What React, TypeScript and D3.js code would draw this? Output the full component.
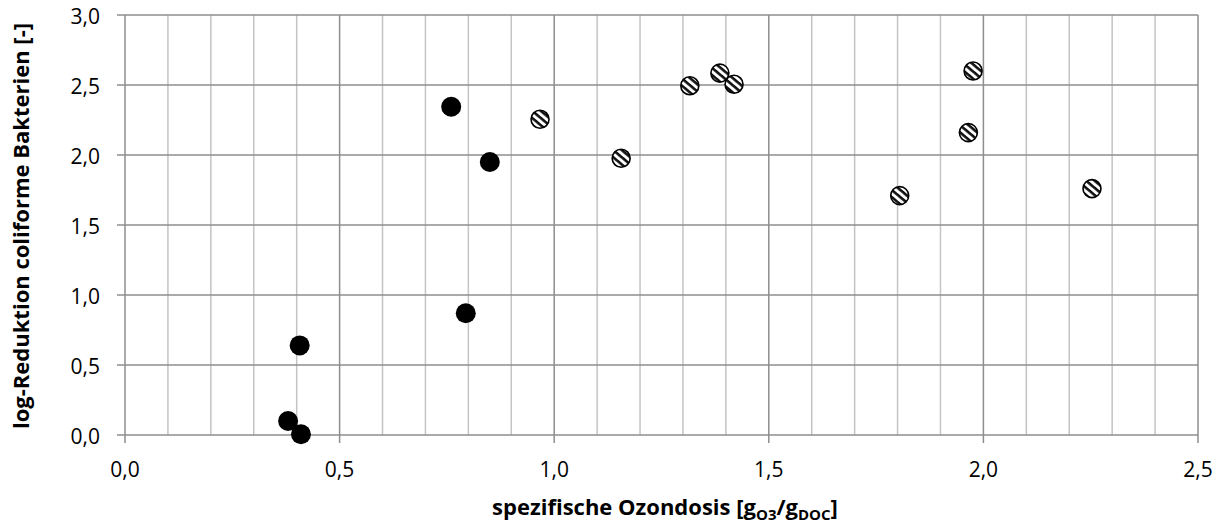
import React from "react";
import * as d3 from "d3";

const blackX = [0.380, 0.410, 0.407, 0.794, 0.760, 0.850];
const blackY = [0.10, 0.005, 0.64, 0.87, 2.345, 1.95];
const hatchX = [0.967, 1.156, 1.316, 1.386, 1.419, 1.805, 1.965, 1.976, 2.253];
const hatchY = [2.255, 1.977, 2.495, 2.585, 2.505, 1.71, 2.16, 2.6, 1.76];
const xTicks = [0, 0.5, 1.0, 1.5, 2.0, 2.5];
const yTicks = [0, 0.5, 1.0, 1.5, 2.0, 2.5, 3.0];
const xMinor = d3.range(0, 26).map((i) => i / 10);

const W = 1222;
const H = 525;
const left = 125, right = 1198, top = 15, bottom = 435;

export default function App() {
  const x = d3.scaleLinear().domain([0, 2.5]).range([left, right]);
  const y = d3.scaleLinear().domain([0, 3]).range([bottom, top]);
  const fmt = (v: number) => v.toFixed(1).replace(".", ",");
  const font = "'Open Sans', sans-serif";
  return (
    <svg width={W} height={H} style={{ position: "absolute", left: 0, top: 0, background: "#fff" }}>
      <defs>
        <pattern id="stripes" patternUnits="userSpaceOnUse" width="5.5" height="5.5" patternTransform="rotate(40)">
          <rect width="5.5" height="5.5" fill="#fff" />
          <rect width="5.5" height="2.6" fill="#111" />
        </pattern>
      </defs>
      <rect x={0} y={0} width={W} height={H} fill="#fff" />
      {xMinor.filter((v) => Math.round(v * 10) % 5 !== 0).map((v) => (
        <line key={"mn" + v} x1={x(v)} x2={x(v)} y1={y(3)} y2={y(0)} stroke="#c4c4c4" strokeWidth={1.5} />
      ))}
      {yTicks.map((v) => (
        <line key={"hy" + v} x1={left - 8} x2={right} y1={y(v)} y2={y(v)} stroke="#8e8e8e" strokeWidth={1.5} />
      ))}
      {xTicks.map((v) => (
        <line key={"vx" + v} x1={x(v)} x2={x(v)} y1={y(3)} y2={y(0) + 8} stroke="#8e8e8e" strokeWidth={1.5} />
      ))}
      {yTicks.map((v) => (
        <text key={"yl" + v} x={100} y={y(v) + 1} dy="0.36em" textAnchor="end" fontFamily={font} fontSize={21} fill="#000">
          {fmt(v)}
        </text>
      ))}
      {xTicks.map((v) => (
        <text key={"xl" + v} x={x(v)} y={469} dy="0.36em" textAnchor="middle" fontFamily={font} fontSize={21} fill="#000">
          {fmt(v)}
        </text>
      ))}
      {blackX.map((v, i) => (
        <circle key={"b" + i} cx={x(v)} cy={y(blackY[i])} r={10} fill="#000" />
      ))}
      {hatchX.map((v, i) => (
        <circle key={"h" + i} cx={x(v)} cy={y(hatchY[i])} r={9} fill="url(#stripes)" stroke="#000" strokeWidth={1.6} />
      ))}
      <text x={665} y={507} dy="0.36em" textAnchor="middle" fontFamily={font} fontSize={22} fontWeight="bold" fill="#000">
        spezifische Ozondosis [g
        <tspan fontSize={15} dy="5">O3</tspan>
        <tspan dy="-5">/g</tspan>
        <tspan fontSize={15} dy="5">DOC</tspan>
        <tspan dy="-5">]</tspan>
      </text>
      <text transform={`translate(21, 226) rotate(-90)`} dy="0.36em" textAnchor="middle" fontFamily={font} fontSize={22} fontWeight="bold" fill="#000">
        log-Reduktion coliforme Bakterien [-]
      </text>
    </svg>
  );
}
